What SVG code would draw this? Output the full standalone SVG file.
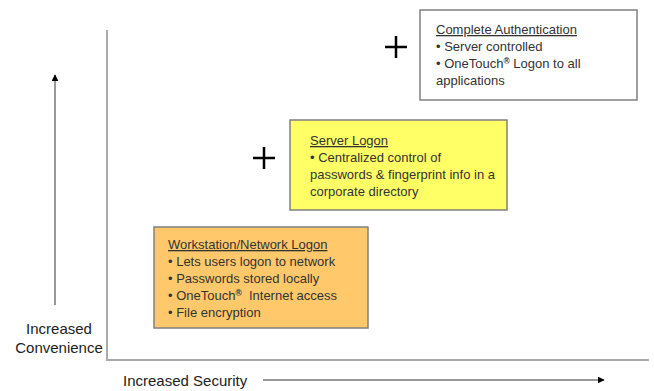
<svg xmlns="http://www.w3.org/2000/svg" width="654" height="391" viewBox="0 0 654 391">
<defs>
<marker id="ah" viewBox="0 0 10 10" refX="9" refY="5" markerWidth="7" markerHeight="7" markerUnits="userSpaceOnUse" orient="auto">
<path d="M0,0 L10,5 L0,10 z" fill="#000"/>
</marker>
<style>
text{font-family:"Liberation Sans",Arial,sans-serif;font-size:13px;fill:#333}
.box{stroke:#808080;stroke-width:1.5}
.ttl{text-decoration:underline}
.axis{stroke:#aaa;stroke-width:2;fill:none}
.arr{stroke:#999;stroke-width:2;fill:none}
.plus{stroke:#000;stroke-width:2.5}
.lab{font-size:15px;fill:#222}
</style>
</defs>
<rect width="654" height="391" fill="#fff"/>
<g id="connectors">
<polyline class="axis" points="107,30 107,360 649,360"/>
<line class="arr" x1="55" y1="305" x2="55" y2="75" marker-end="url(#ah)"/>
<line class="arr" x1="263" y1="380" x2="604" y2="380" marker-end="url(#ah)"/>
</g>
<g id="plus1"><path class="plus" d="M385,47 H407 M396,36 V58"/></g>
<g id="plus2"><path class="plus" d="M253,158 H275 M264,147 V169"/></g>
<g id="complete">
<rect class="box" x="420" y="10" width="217" height="90" fill="#fff"/>
<text x="436" y="34" class="ttl">Complete Authentication</text>
<text x="436" y="51">• Server controlled</text>
<text x="436" y="68">• OneTouch<tspan font-size="8.5" font-weight="bold" dy="-4">®</tspan><tspan dy="4"> Logon to all</tspan></text>
<text x="436" y="85">applications</text>
</g>
<g id="server">
<rect class="box" x="290" y="120" width="217" height="90" fill="#ffff66"/>
<text x="310" y="145" class="ttl">Server Logon</text>
<text x="310" y="162">• Centralized control of</text>
<text x="310" y="179">passwords &amp; fingerprint info in a</text>
<text x="310" y="196">corporate directory</text>
</g>
<g id="workstation">
<rect class="box" x="154" y="227" width="214" height="101" fill="#ffc96b"/>
<text x="168" y="249" class="ttl">Workstation/Network Logon</text>
<text x="168" y="266">• Lets users logon to network</text>
<text x="168" y="283">• Passwords stored locally</text>
<text x="168" y="300">• OneTouch<tspan font-size="8.5" font-weight="bold" dy="-4">®</tspan><tspan dy="4">&#160; Internet access</tspan></text>
<text x="168" y="317">• File encryption</text>
</g>
<g id="labels">
<text class="lab" x="59" y="334" text-anchor="middle">Increased</text>
<text class="lab" x="59" y="353" text-anchor="middle">Convenience</text>
<text class="lab" x="123" y="386">Increased Security</text>
</g>
</svg>
